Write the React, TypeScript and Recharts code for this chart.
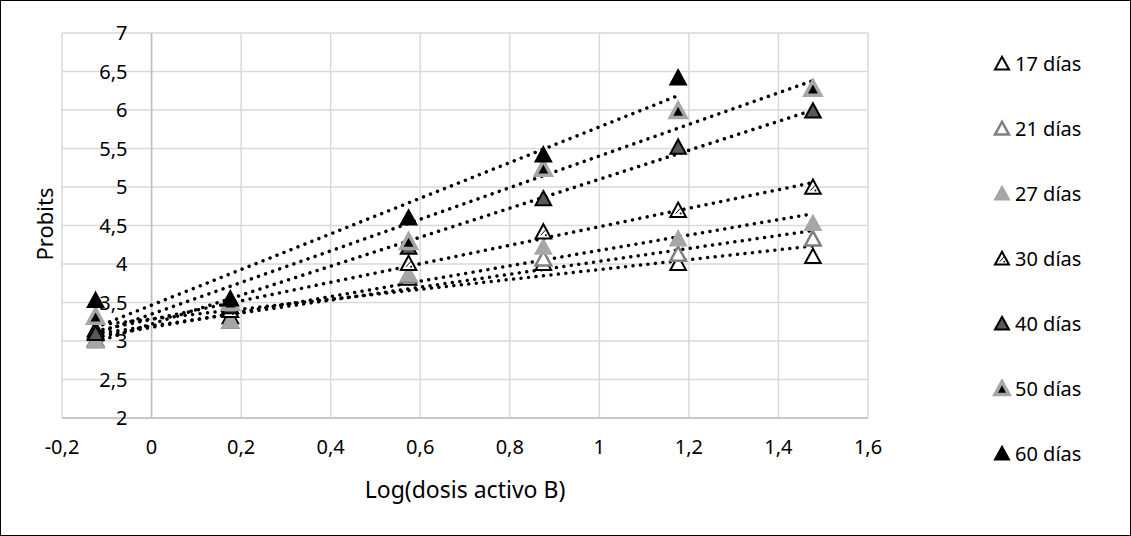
import {
  CartesianGrid,
  ReferenceLine,
  Scatter,
  ScatterChart,
  XAxis,
  YAxis,
} from "recharts";

// log10 of the dose of active B
const logDose = [-0.125, 0.176, 0.574, 0.875, 1.176, 1.477];

// probits per exposure time
const dias17 = [3.12, 3.32, 3.82, 4.01, 4.01, 4.1];
const dias21 = [3.02, 3.26, 3.85, 4.07, 4.13, 4.33];
const dias27 = [3.0, 3.26, 3.87, 4.22, 4.33, 4.53];
const dias30 = [3.15, 3.4, 4.01, 4.42, 4.7, 5.0];
const dias40 = [3.1, 3.45, 4.22, 4.85, 5.52, 5.99];
const dias50 = [3.32, 3.5, 4.29, 5.24, 5.99, 6.28];
const dias60 = [3.53, 3.55, 4.6, 5.42, 6.42];

const xTicks = [-0.2, 0, 0.2, 0.4, 0.6, 0.8, 1, 1.2, 1.4, 1.6];
const yTicks = [2, 2.5, 3, 3.5, 4, 4.5, 5, 5.5, 6, 6.5, 7];

const W = 1131;
const H = 536;
const PLOT = { left: 62, top: 33, right: 868, bottom: 418 };
const X_DOMAIN: [number, number] = [-0.2, 1.6];
const Y_DOMAIN: [number, number] = [2, 7];
const AXIS_W = 50;
const AXIS_H = 50;
const FONT = "'Noto Sans', 'Open Sans', sans-serif";

type MarkerStyle = { fill: string; stroke: string; sw: number; hatch?: boolean };

const series: { name: string; values: number[]; marker: MarkerStyle }[] = [
  { name: "17 días", values: dias17, marker: { fill: "#fff", stroke: "#000", sw: 2 } },
  { name: "21 días", values: dias21, marker: { fill: "#fff", stroke: "#7f7f7f", sw: 2.5 } },
  { name: "27 días", values: dias27, marker: { fill: "#a6a6a6", stroke: "#a6a6a6", sw: 2 } },
  { name: "30 días", values: dias30, marker: { fill: "#fff", stroke: "#000", sw: 2, hatch: true } },
  { name: "40 días", values: dias40, marker: { fill: "#595959", stroke: "#000", sw: 2 } },
  { name: "50 días", values: dias50, marker: { fill: "#000", stroke: "#a6a6a6", sw: 3.5 } },
  { name: "60 días", values: dias60, marker: { fill: "#000", stroke: "#000", sw: 2 } },
];

const fmt = (v: number) => String(v).replace(".", ",");

// least squares, same as the excel linear trendline
function trend(values: number[]) {
  const xs = logDose.slice(0, values.length);
  const n = values.length;
  const mx = xs.reduce((a, b) => a + b, 0) / n;
  const my = values.reduce((a, b) => a + b, 0) / n;
  let sxy = 0;
  let sxx = 0;
  xs.forEach((x, i) => {
    sxy += (x - mx) * (values[i] - my);
    sxx += (x - mx) * (x - mx);
  });
  const slope = sxy / sxx;
  const icpt = my - slope * mx;
  const x0 = xs[0];
  const x1 = xs[n - 1];
  return [
    { x: x0, y: icpt + slope * x0 },
    { x: x1, y: icpt + slope * x1 },
  ];
}

function Triangle({ cx, cy, m, scale = 1 }: { cx: number; cy: number; m: MarkerStyle; scale?: number }) {
  const w = 7.8 * scale;
  const t = 7.5 * scale;
  const b = 6.8 * scale;
  return (
    <g>
      <path
        d={`M${cx},${cy - t}L${cx + w},${cy + b}L${cx - w},${cy + b}Z`}
        fill={m.fill}
        stroke={m.stroke}
        strokeWidth={m.sw}
        strokeLinejoin="miter"
      />
      {m.hatch && (
        <>
          <line x1={cx - 2.5 * scale} y1={cy + 3.5 * scale} x2={cx + 2 * scale} y2={cy - 1.5 * scale} stroke="#000" strokeWidth={1} />
          <circle cx={cx + 2.5 * scale} cy={cy + 3.5 * scale} r={1 * scale} fill="#000" />
        </>
      )}
    </g>
  );
}

// excel puts the vertical axis where x = 0
const zeroX =
  PLOT.left + ((0 - X_DOMAIN[0]) / (X_DOMAIN[1] - X_DOMAIN[0])) * (PLOT.right - PLOT.left);

function YTick(props: any) {
  const { y, payload } = props;
  return (
    <text x={zeroX - 24} y={y} dy="0.35em" textAnchor="end" fontSize={20} fill="#000" fontFamily={FONT}>
      {fmt(payload.value)}
    </text>
  );
}

function XTick(props: any) {
  const { x, payload } = props;
  return (
    <text x={x} y={PLOT.bottom + 29} dy="0.35em" textAnchor="middle" fontSize={20} fill="#000" fontFamily={FONT}>
      {fmt(payload.value)}
    </text>
  );
}

export default function App() {
  return (
    <div
      style={{
        position: "absolute",
        left: 0,
        top: 0,
        width: W,
        height: H,
        boxSizing: "border-box",
        border: "1px solid #000",
        background: "#fff",
        fontFamily: FONT,
      }}
    >
      <div style={{ position: "absolute", left: -1, top: -1 }}>
        <ScatterChart
          width={W}
          height={H}
          margin={{
            top: PLOT.top,
            right: W - PLOT.right,
            bottom: H - PLOT.bottom - AXIS_H,
            left: PLOT.left - AXIS_W,
          }}
        >
          <CartesianGrid stroke="#d9d9d9" strokeWidth={1.5} />
          <XAxis
            type="number"
            dataKey="x"
            domain={X_DOMAIN}
            ticks={xTicks}
            interval={0}
            height={AXIS_H}
            tickLine={false}
            axisLine={{ stroke: "#bfbfbf", strokeWidth: 1.5 }}
            tick={XTick}
            allowDataOverflow
          />
          <YAxis
            type="number"
            dataKey="y"
            domain={Y_DOMAIN}
            ticks={yTicks}
            interval={0}
            width={AXIS_W}
            tickLine={false}
            axisLine={false}
            tick={YTick}
            allowDataOverflow
          />
          <ReferenceLine x={0} stroke="#bfbfbf" strokeWidth={1.5} />
          {series.map((s) => (
            <Scatter
              key={s.name}
              name={s.name}
              data={s.values.map((y, i) => ({ x: logDose[i], y }))}
              isAnimationActive={false}
              shape={(p: any) => <Triangle cx={p.cx} cy={p.cy} m={s.marker} />}
            />
          ))}
          {series.map((s) => (
            <ReferenceLine
              key={"t" + s.name}
              segment={trend(s.values)}
              stroke="#000"
              strokeWidth={3.5}
              strokeDasharray="0.01 7.5"
              strokeLinecap="round"
            />
          ))}
        </ScatterChart>
      </div>

      {/* axis titles */}
      <div
        style={{
          position: "absolute",
          left: 464,
          top: 488,
          transform: "translate(-50%, -50%)",
          fontSize: 23,
          color: "#000",
          whiteSpace: "nowrap",
        }}
      >
        Log(dosis activo B)
      </div>
      <div
        style={{
          position: "absolute",
          left: 43,
          top: 223,
          transform: "translate(-50%, -50%) rotate(-90deg)",
          fontSize: 22,
          color: "#000",
          whiteSpace: "nowrap",
        }}
      >
        Probits
      </div>

      {/* legend */}
      <div style={{ position: "absolute", left: 991, top: 49 }}>
        {series.map((s) => (
          <div
            key={s.name}
            style={{ display: "flex", alignItems: "center", height: 26, marginBottom: 39, whiteSpace: "nowrap" }}
          >
            <svg width={20} height={18} style={{ marginRight: 3 }}>
              <Triangle cx={10} cy={9.5} m={s.marker} scale={0.9} />
            </svg>
            <span style={{ fontSize: 20, color: "#000" }}>{s.name}</span>
          </div>
        ))}
      </div>
    </div>
  );
}
